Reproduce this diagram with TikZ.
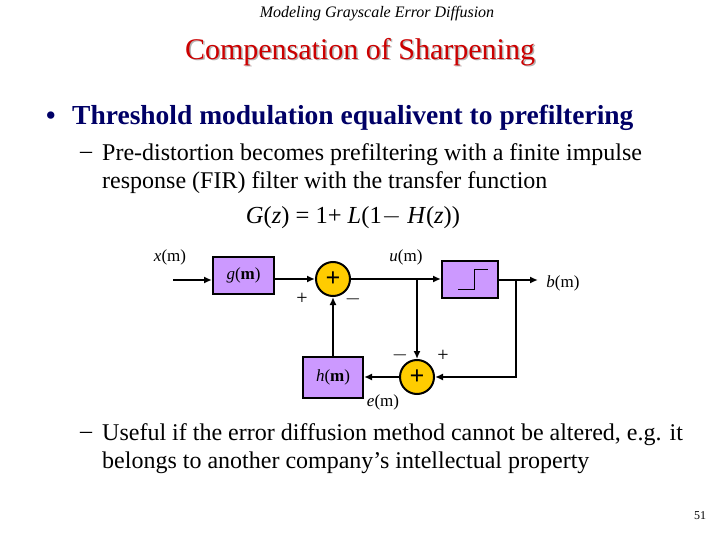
\documentclass[tikz,border=0pt]{standalone}
\usepackage{fontspec}
\setmainfont{Liberation Serif}
\usetikzlibrary{arrows.meta}
\definecolor{boxp}{HTML}{CC99FF}
\definecolor{sumy}{HTML}{FFCC00}
\definecolor{titr}{HTML}{CC0000}
\definecolor{navy}{HTML}{000066}
\tikzset{
 blk/.style={draw=black,line width=2pt,fill=boxp,inner sep=0pt},
 sumn/.style={circle,draw=black,line width=2pt,fill=sumy,minimum size=34pt,inner sep=0pt,font=\fontsize{26}{26}\selectfont\bfseries},
 wire/.style={line width=2pt,-{Latex[length=8pt,width=7pt]}},
 lbl/.style={font=\fontsize{17}{17}\selectfont},
 txt/.style={anchor=west,inner sep=0pt}
}
\begin{document}
\begin{tikzpicture}[x=1pt,y=-1pt]
\useasboundingbox (0,0) rectangle (720,540);
\node at (377,14) {\fontsize{16}{16}\selectfont\itshape Modeling Grayscale Error Diffusion};
\node[text=gray!60] at (361.5,53.5) {\fontsize{30}{30}\selectfont Compensation of Sharpening};
\node[text=titr] (title) at (360,52) {\fontsize{30}{30}\selectfont Compensation of Sharpening};
\node[txt,text=navy] (b1) at (46,118) {\fontsize{27}{27}\selectfont\bfseries •};
\node[txt,text=navy] (t1) at (72,118) {\fontsize{27.5}{27.5}\selectfont\bfseries Threshold modulation equalivent to prefiltering};
\node[txt] (d1) at (80,155) {\fontsize{24}{24}\selectfont –};
\node[txt] (t2) at (102,155) {\fontsize{24}{24}\selectfont Pre-distortion becomes prefiltering with a finite impulse};
\node[txt] (t3) at (102,183) {\fontsize{24}{24}\selectfont response (FIR) filter with the transfer function};
\node (eq) at (353,218) {\fontsize{24.5}{24.5}\selectfont \textit{G}(\textit{z}) = 1+ \textit{L}(1$-$ \textit{H}(\textit{z}))};
\node[txt] (d2) at (80,435) {\fontsize{24}{24}\selectfont –};
\node[txt] (t4) at (102,435) {\fontsize{24}{24}\selectfont Useful if the error diffusion method cannot be altered, e.g. it};
\node[txt] (t5) at (102,463) {\fontsize{24}{24}\selectfont belongs to another company’s intellectual property};
\node (pg) at (700,516) {\fontsize{12}{12}\selectfont 51};
% diagram
\coordinate (in) at (173,280);
\node[blk,minimum width=61pt,minimum height=37pt,lbl] (g) at (243.5,275.5) {\textit{g}(\textbf{m})};
\node[sumn] (s1) at (333,279) {+};
\node[blk,minimum width=56pt,minimum height=37pt] (q) at (470,279.5) {};
\draw[line width=1pt] ([shift={(-12,10)}]q.center) -- ++(16,0) -- ++(0,-20) -- ++(14,0);
\node[sumn] (s2) at (417,377) {+};
\node[blk,minimum width=60pt,minimum height=41pt,lbl] (h) at (333,377.5) {\textit{h}(\textbf{m})};
\coordinate (bu) at (417,280);
\coordinate (bb) at (516,280);
\coordinate (out) at (538,280);
\coordinate (bc) at (516,377);
\draw[wire] (in) -- (g.west|-in);
\draw[wire] (g.east|-s1) -- (s1.west);
\draw[wire] (s1.east) -- (q.west|-s1);
\draw[wire] (bu) -- (s2.north);
\draw[wire] (q.east|-bb) -- (out);
\draw[wire] (bb) -- (bc) -- (s2.east);
\draw[wire] (s2.west) -- (h.east|-s2);
\draw[wire] (h.north-|s1) -- (s1.south);
\node[lbl] (xl) at (170,257) {\textit{x}(m)};
\node[lbl] (ul) at (406,257) {\textit{u}(m)};
\node[lbl] (bl) at (563,283) {\textit{b}(m)};
\node[lbl] (el) at (383,402) {\textit{e}(m)};
\node[lbl] (p1) at (302,299) {\fontsize{20}{20}\selectfont +};
\node[lbl] (m1) at (353,299) {\fontsize{20}{20}\selectfont $-$};
\node[lbl] (m2) at (400,355) {\fontsize{20}{20}\selectfont $-$};
\node[lbl] (p2) at (443,356) {\fontsize{20}{20}\selectfont +};
\end{tikzpicture}
\end{document}
